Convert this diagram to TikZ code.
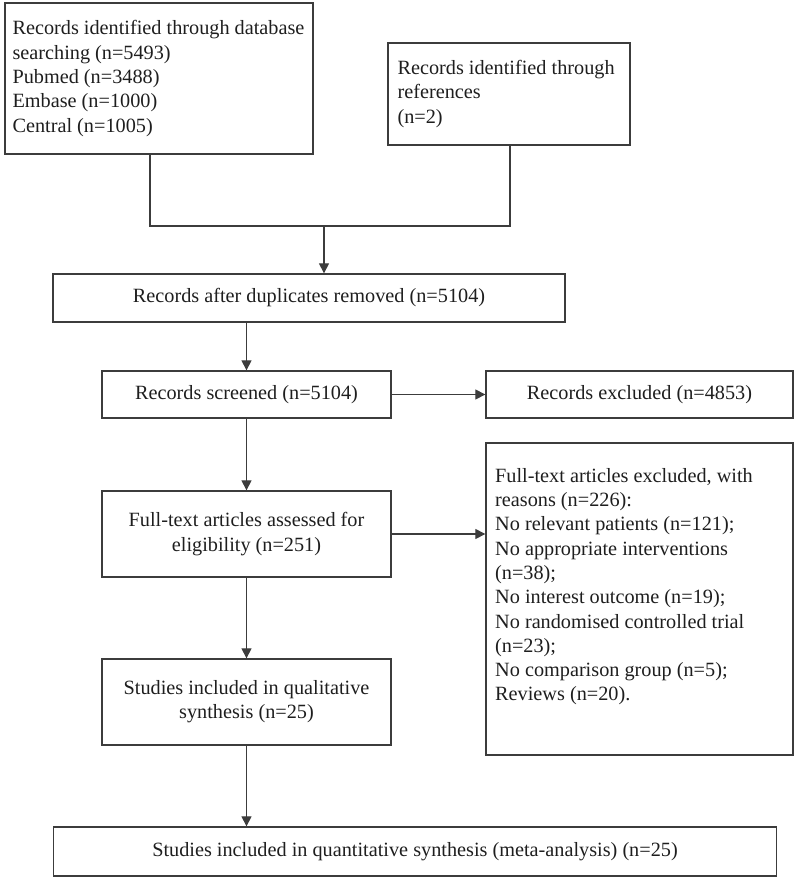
\documentclass[tikz,border=0pt]{standalone}
\usepackage{fontspec}
\setmainfont{Liberation Serif}
\usetikzlibrary{arrows.meta}
\definecolor{ln}{HTML}{3C3C3C}
\definecolor{tx}{HTML}{1E1E1E}
\begin{document}
\begin{tikzpicture}[x=1pt,y=-1pt,
  box/.style={draw=ln, line width=1.3pt, inner sep=0pt, text=tx,
    font=\fontsize{20.25}{24.3}\selectfont, align=center},
  txt/.style={inner sep=0pt, text=tx, font=\fontsize{20.25}{24.3}\selectfont, align=left, anchor=west},
  conn/.style={draw=ln, line width=1.1pt},
  arr/.style={conn, -{Triangle[width=10pt,length=10pt]}}]
\useasboundingbox (0,0) rectangle (800,878);
% top boxes
\node[box, minimum width=308pt, minimum height=151pt] (b1) at (159,78.5) {};
\node[txt] (t1) at ([xshift=8pt]b1.west) {Records identified through database\\searching (n=5493)\\Pubmed (n=3488)\\Embase (n=1000)\\Central (n=1005)};
\node[box, minimum width=242pt, minimum height=102pt] (b2) at (509,94) {};
\node[txt] (t2) at ([xshift=10pt]b2.west) {Records identified through\\references\\(n=2)};
% main column
\node[box, minimum width=512pt, minimum height=48pt] (dup) at (309,298) {Records after duplicates removed (n=5104)};
\node[box, minimum width=289pt, minimum height=47pt] (scr) at (246.5,394.5) {Records screened (n=5104)};
\node[box, minimum width=307pt, minimum height=47pt] (exc) at (639.5,394.5) {Records excluded (n=4853)};
\node[box, minimum width=289pt, minimum height=86pt] (ft) at (246.5,534) {Full-text articles assessed for\\eligibility (n=251)};
\node[box, minimum width=307pt, minimum height=312pt] (rsn) at (639.5,599) {};
\node[txt, anchor=north west] (t3) at (495,468) {Full-text articles excluded, with\\reasons (n=226):\\No relevant patients (n=121);\\No appropriate interventions\\(n=38);\\No interest outcome (n=19);\\No randomised controlled trial\\(n=23);\\No comparison group (n=5);\\Reviews (n=20).};
\node[box, minimum width=289pt, minimum height=86pt] (ql) at (246.5,702) {Studies included in qualitative\\synthesis (n=25)};
\node[box, minimum width=723pt, minimum height=49pt] (qt) at (415,851.5) {Studies included in quantitative synthesis (meta-analysis) (n=25)};
% connectors
\coordinate (c1) at (150,226);
\coordinate (c2) at (510,226);
\coordinate (jn) at (324,226);
\draw[conn] (b1.south -| c1) -- (c1) -- (c2) -- (b2.south -| c2);
\draw[arr] (jn) -- (dup.north -| jn);
\draw[arr] (dup.south -| scr.north) -- (scr.north);
\draw[arr] (scr.east) -- (exc.west);
\draw[arr] (scr.south) -- (ft.north);
\draw[arr] (ft.east) -- (ft.east -| rsn.west);
\draw[arr] (ft.south) -- (ql.north);
\draw[arr] (ql.south) -- (qt.north -| ql.south);
\end{tikzpicture}
\end{document}
